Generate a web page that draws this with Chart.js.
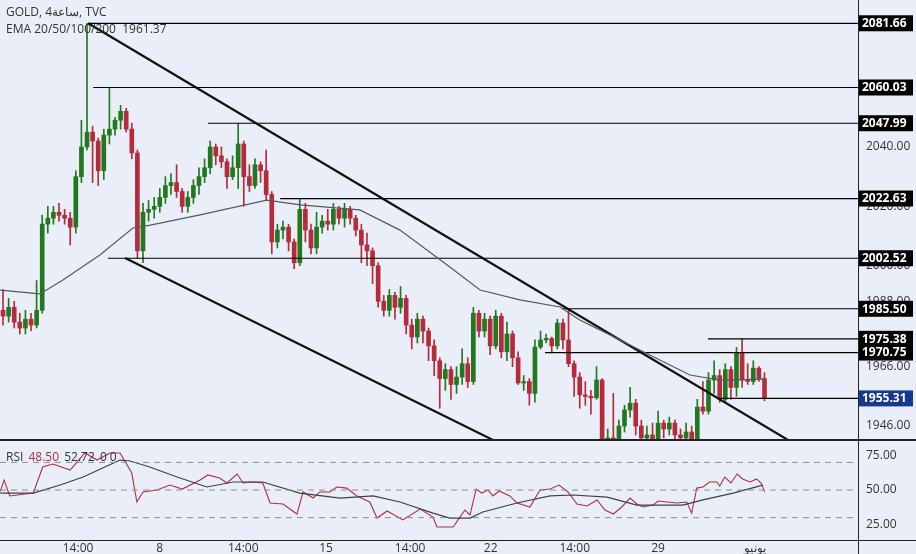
<!DOCTYPE html>
<html><head><meta charset="utf-8">
<script src="https://cdn.jsdelivr.net/npm/chart.js@4/dist/chart.umd.min.js"></script>
<style>
html,body{margin:0;padding:0;background:#e9eef8;}
#wrap{position:relative;width:916px;height:554px;overflow:hidden;background:#e9eef8;font-family:"Open Sans",sans-serif;}
#c1{position:absolute;left:0;top:0;}
#c2{position:absolute;left:0;top:441px;}
</style></head><body>
<div id="wrap"><canvas id="c1" width="916" height="441"></canvas><canvas id="c2" width="916" height="113"></canvas></div>
<script>
const firstOpen = 1985;
const closes = [1983,1986,1981,1979,1982,1980,1985,2014,2016,2018,2017,2016,2013,2030,2040,2045,2042,2032,2044,2046,2049,2052,2046,2038,2005,2018,2019,2020,2023,2027,
2028,2025,2020,2023,2027,2030,2033,2040,2037,2035,2030,2033,2041,2030,2027,2034,2032,2024,2008,2012,2013,2008,2001,2019,2012,2006,2013,2015,2014,2019,
2016,2019,2016,2012,2007,2005,2000,1988,1985,1990,1986,1989,1980,1976,1982,1978,1973,1968,1962,1965,1960,1962.5,1967,1961,1984,1978,1982,1973,1983,1971,
1977,1969,1960.5,1961,1957,1972.6,1975,1975.5,1973,1980.7,1975,1967,1962.5,1956.5,1956,1955.5,1961.5,1941.5,1942,1941,1946,1951.4,1953.7,1946,1942,1943,1941,1947,1945,1947,
1943,1942,1944,1941,1952.4,1951,1961.5,1963,1955,1965,1959,1970.6,1961.5,1961,1965.5,1962,1955.31];
const highs = [1992,1989,1988,1984,1985,1984,1995,2017,2020,2020,2021,2019,2018,2032,2049,2081.66,2047,2043,2046,2060.03,2050,2054,2053,2048,2039,2021,2022,2023,2026,2030,
2031,2034,2026,2025,2029,2033,2036,2042,2041,2040,2036,2037,2047.99,2042,2034,2036,2035,2039,2025,2014,2015,2014,2009,2022.63,2021,2014,2018,2017,2019,2021,
2020,2021,2020,2017,2014,2011,2006,2001,1990,1992,1991,1993,1990,1982,1984,1983,1979,1975,1969,1967,1966,1966,1972,1969,1986,1985,1984,1983,1985,1984,
1981,1978,1971,1963,1962,1975,1978,1977,1976,1982,1982,1985.5,1968,1964,1961,1958,1966,1962,1945,1957,1948,1953,1959,1955,1948,1946,1947,1951,1948,1949,
1948,1945,1947,1946,1955,1961,1964,1968,1965,1967,1966,1972.5,1975.38,1967,1968,1966,1964];
const lows = [1980,1981,1979,1977,1977,1978,1979,1984,2011,2014,2015,2014,2007,2011,2028,2039,2028,2027,2029,2041,2044,2046,2045,2036,2002.5,2001,2015,2016,2018,2021,
2024,2023,2018,2018,2021,2024,2028,2031,2034,2033,2026,2029,2026,2020,2025,2026,2028,2022,2004,2006,2009,2005,1999,2000,2008,2004,2004,2011,2012,2012,
2014,2013,2014,2010,2001,2000,1994,1986,1983,1983,1982,1984,1977,1972,1974,1974,1968,1963,1952,1958,1955,1957,1960,1959,1960,1976,1976,1970,1972,1969,
1968,1966,1960,1958,1953,1954,1972,1974,1971,1972,1972,1966,1956,1952,1953,1950,1955,1938,1938,1938,1939,1944,1949,1943,1938,1940,1938,1940,1942,1943,
1940,1939,1940,1938,1940,1950,1950,1957,1954,1954,1955,1956,1959,1960,1960,1961,1954.5];
const emaX = [-0.5,6.6,10.7,17.3,23.2,26.3,35.2,47.1,53.1,63.7,70.9,79.8,85.2,92.3,99.5,103,108.4,115.5,122.7,128,136];
const emaV = [1991.8,1990.5,1995.2,2003.6,2012.7,2013.7,2017.1,2022.1,2020.5,2018.8,2012,1999.6,1991.8,1988.5,1986.1,1981.7,1976.7,1969.9,1963.2,1961.5,1961.8];
const levels = [2081.66,2060.03,2047.99,2022.63,2002.52,1985.50,1975.38,1970.75,1955.31];
const levelStart = [15.2,16.1,36.6,49.5,18.75,99.8,125.9,96.8,128];
const trendUpper = [[15.2,2081.66],[140.2,1941.3]];
const trendLower = [[21.8,2002.6],[87.5,1941.3]];
const priceTicks = [1946,1966,1988,2000,2020,2040];
const rsiX = [-0.5,0.2,1.2,5.4,7.1,8.9,12,14.6,16.8,19.1,20.9,23,23.9,25,27.5,29.8,32,35.2,36.6,38.7,40,41.8,42.9,44.6,46.4,47.7,50,52.5,53.6,55.4,56.6,58.4,59.6,61.4,63.2,65.5,66.8,68.6,71.4,74.5,76.8,77.5,80.4,81.6,
82.5,83.4,84.5,85.5,86.6,87.5,88.6,90.5,91.8,94.1,95.9,97.7,99.3,100.9,102.5,104.3,106.1,107.5,109,110.5,112,113.2,114.3,116.1,117,118.6,120.4,122.1,123,123.9,125,126.2,127.5,128,128.9,130,131.1,132.1,133.4,134.6,135.5,136];
const rsiV = [48.8,57.2,45.7,47.8,66.7,68.8,64.5,76.8,71.7,76.8,76.8,62.3,41.3,48.6,50,53.6,50.7,57.2,60.9,58.7,55.1,61.6,55.1,55.8,55.1,40.6,39.9,32.6,48.6,44.2,48.6,48.6,52.2,51.4,45.7,41.3,29.7,34.8,28.3,36.2,30.4,23.2,23.2,30.4,
35.5,31.9,50.7,47.8,50,45.7,49.3,45.7,40.6,37.7,50,50.7,53.6,48.6,39.9,38.4,42.8,35.5,32.6,37.7,44.2,39.9,37.7,39.1,42,41.3,40.6,41.3,33.3,51.4,52.2,55.8,55.8,52.9,59.4,55.1,61.6,58,55.8,58,54.3,48.5];
const rsiMaX = [-0.5,5.4,10.2,14.3,20.9,22.7,26.2,31.1,36.4,41.1,46.4,53,60.2,66.1,70.9,76.8,79.8,83.4,85.7,91.8,97.7,101.8,107.9,113.2,121.4,125,130.4,135.7];
const rsiMaV = [47.8,47.8,53.6,59.4,71.7,71,66.7,59.4,52.2,55.8,55.8,47.8,44.2,45.7,41.3,33.3,29.7,29.7,34.1,40.6,45.7,46.4,44.9,39.1,39.1,42.8,47.8,53.6];
const rsiGuides = [70,50,30];
const rsiTicks = [25,50,75];
const timeTickPos = [13.4,28,42.9,57.7,72.7,87.1,102.1,117,134.3];
const timeTickLabels = ['14:00','8','14:00','15','14:00','22','14:00','29','يونيو'];

const XMIN=-0.54, XMAX=152.7;
const GREEN='#23781f', RED='#b52b3c';
const FONT='12px "Open Sans", sans-serif';
const opens = closes.map((c,i)=> i===0 ? firstOpen : closes[i-1]);
const col = closes.map((c,i)=> c>=opens[i] ? GREEN : RED);
const pts = (xs,vs)=>xs.map((x,i)=>({x:x,y:vs[i]}));
const seg = (s,e,v)=>[{x:s,y:v},{x:e,y:v}];
const lineDs = (data,color,w,dash)=>({type:'line',data,borderColor:color,borderWidth:w,borderDash:dash||[],pointRadius:0,fill:false,tension:0,order:0});

const ds1 = [
 {type:'bar',data:closes.map((c,i)=>({x:i,y:[lows[i],highs[i]]})),backgroundColor:col,barThickness:1,grouped:false,order:2},
 {type:'bar',data:closes.map((c,i)=>({x:i,y:[opens[i],c===opens[i]?c+0.3:c]})),backgroundColor:col,borderWidth:0,barThickness:4,grouped:false,order:1},
 lineDs(pts(emaX,emaV),'#55585f',1.2),
];
levels.forEach((v,k)=>ds1.push(lineDs(seg(levelStart[k],XMAX,v),'#000',1.2)));
ds1.push(lineDs(trendUpper.map(p=>({x:p[0],y:p[1]})),'#111',2.2));
ds1.push(lineDs(trendLower.map(p=>({x:p[0],y:p[1]})),'#111',2.2));

function drawYTicks(c,scale,vals,x){
 c.font=FONT;c.fillStyle='#333';c.textBaseline='middle';c.textAlign='left';
 vals.forEach(v=>c.fillText(v.toFixed(2),x,scale.getPixelForValue(v)));
}

const boxPlugin = {id:'boxes',afterDraw(ch){
 const c=ch.ctx, y=ch.scales.y;
 c.save();
 drawYTicks(c,y,priceTicks,866);
 c.strokeStyle='#222';c.lineWidth=1;
 c.beginPath();c.moveTo(858.5,0);c.lineTo(858.5,441);c.stroke();
 c.lineWidth=2;c.beginPath();c.moveTo(0,440);c.lineTo(916,440);c.stroke();
 c.font='bold 12px "Open Sans", sans-serif';c.textBaseline='middle';
 levels.forEach(v=>{
  const py=y.getPixelForValue(v);
  c.fillStyle = v===1955.31 ? '#15398f' : '#000';
  c.fillRect(859,py-8,54,16);
  c.fillStyle='#fff';c.fillText(v.toFixed(2),862,py+0.5);
 });
 c.font=FONT;c.fillStyle='#333';
 c.fillText('GOLD, 4ساعة, TVC',6,13);
 c.fillText('EMA 20/50/100/200  1961.37',6,30);
 c.restore();
}};

const hiddenAxis = {display:false};
new Chart(document.getElementById('c1'),{
 type:'bar',
 data:{datasets:ds1},
 options:{responsive:false,animation:false,events:[],
  layout:{padding:{left:0,right:58,top:0,bottom:1}},
  plugins:{legend:{display:false},tooltip:{enabled:false}},
  scales:{
   x:{type:'linear',min:XMIN,max:XMAX,display:false,offset:false},
   y:{min:1941.3,max:2089.5,display:false}
  }},
 plugins:[boxPlugin]
});

const ds2=[];
rsiGuides.forEach(v=>ds2.push(lineDs(seg(XMIN,XMAX,v),'#8a8d94',1,[6,5])));
ds2.push(lineDs(pts(rsiMaX,rsiMaV),'#3e4047',1.2));
ds2.push(lineDs(pts(rsiX,rsiV),'#b0303f',1.1));

const rsiPlugin={id:'rsi',afterDraw(ch){
 const c=ch.ctx;c.save();
 drawYTicks(c,ch.scales.y,rsiTicks,866);
 c.textAlign='center';c.textBaseline='middle';
 timeTickPos.forEach((p,i)=>c.fillText(timeTickLabels[i],ch.scales.x.getPixelForValue(p),108));
 c.textAlign='left';
 c.strokeStyle='#222';c.lineWidth=1;
 c.beginPath();c.moveTo(858.5,0);c.lineTo(858.5,113);c.stroke();
 c.beginPath();c.moveTo(0,99.5);c.lineTo(916,99.5);c.stroke();
 let x=6;const yy=17;
 const parts=[['RSI ','#333'],['48.50 ','#b0303f'],['52.72 ','#333'],['0 0','#333']];
 parts.forEach(p=>{c.fillStyle=p[1];c.fillText(p[0],x,yy);x+=c.measureText(p[0]).width+2;});
 c.restore();
}};

new Chart(document.getElementById('c2'),{
 type:'line',
 data:{datasets:ds2},
 options:{responsive:false,animation:false,events:[],
  plugins:{legend:{display:false},tooltip:{enabled:false}},
  layout:{padding:{left:0,right:58,top:0,bottom:14}},
  scales:{
   x:{type:'linear',min:XMIN,max:XMAX,display:false},
   y:{min:13.8,max:85.5,display:false}
  }},
 plugins:[rsiPlugin]
});
</script></body></html>
